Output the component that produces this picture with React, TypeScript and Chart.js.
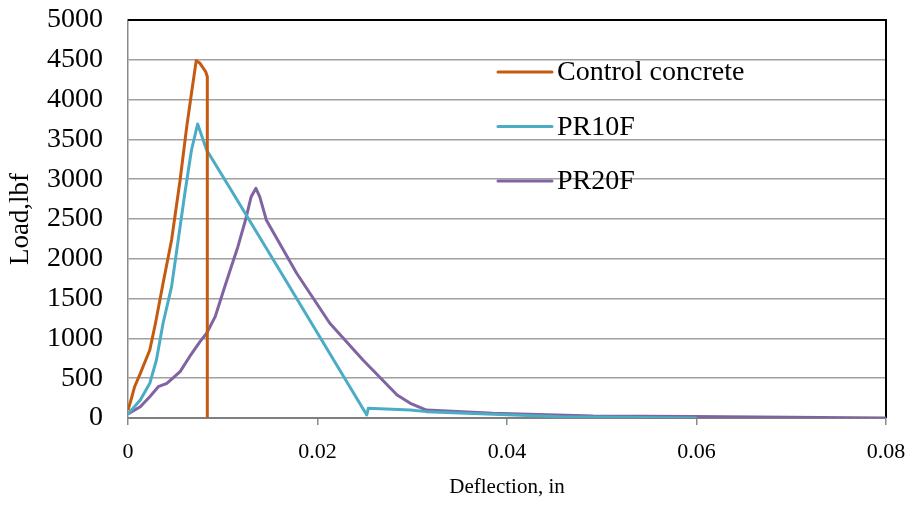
import { useEffect, useRef } from 'react';
import { Chart, registerables } from 'chart.js';
Chart.register(...registerables);

const seriesNames = ['Control concrete', 'PR10F', 'PR20F'];
const seriesColors = ['#C55A11', '#4BACC6', '#8064A2'];

const controlX = [0, 0.0003, 0.0007, 0.0013, 0.0023, 0.0029, 0.0037, 0.0046, 0.0055, 0.0062, 0.0067, 0.0072, 0.0076, 0.0082, 0.00837, 0.00837];
const controlY = [100, 220, 393, 561, 854, 1190, 1692, 2236, 2990, 3660, 4080, 4490, 4456, 4350, 4288, 0];

const pr10X = [0, 0.0013, 0.0023, 0.003, 0.0037, 0.0046, 0.0053, 0.006, 0.0067, 0.00735, 0.0083, 0.0108, 0.0165, 0.0252, 0.02536, 0.0298, 0.0315, 0.0456, 0.06];
const pr10Y = [50, 226, 436, 729, 1190, 1650, 2236, 2823, 3367, 3693, 3367, 2880, 1760, 38, 122, 100, 80, 16, 0];

const pr20X = [0, 0.0013, 0.0023, 0.0032, 0.0041, 0.0055, 0.0065, 0.0076, 0.0083, 0.0092, 0.0101, 0.0109, 0.0116, 0.0124, 0.013, 0.0135, 0.0139, 0.0146, 0.015, 0.0178, 0.0213, 0.0248, 0.0284, 0.0298, 0.0315, 0.0385, 0.0491, 0.0596, 0.08];
const pr20Y = [50, 142, 268, 393, 436, 582, 770, 959, 1064, 1273, 1608, 1901, 2152, 2487, 2780, 2886, 2780, 2487, 2403, 1818, 1190, 729, 289, 185, 100, 59, 25, 20, 0];

const xTickLabels = ['0', '0.02', '0.04', '0.06', '0.08'];
const yTickLabels = ['0', '500', '1000', '1500', '2000', '2500', '3000', '3500', '4000', '4500', '5000'];

const xTitle = 'Deflection, in';
const yTitle = 'Load,lbf';

const FONT = "'Liberation Serif', 'Times New Roman', serif";

export default function App() {
  const ref = useRef<HTMLCanvasElement>(null);
  useEffect(() => {
    document.body.style.margin = '0';
    const toPts = (xs: number[], ys: number[]) => xs.map((x, i) => ({ x, y: ys[i] }));

    const framePlugin = {
      id: 'frame',
      beforeDatasetsDraw(chart: any) {
        const { ctx, chartArea } = chart;
        ctx.save();
        ctx.strokeStyle = '#000000';
        ctx.lineWidth = 2;
        ctx.beginPath();
        ctx.moveTo(chartArea.left, chartArea.top);
        ctx.lineTo(chartArea.right, chartArea.top);
        ctx.lineTo(chartArea.right, chartArea.bottom);
        ctx.stroke();
        ctx.restore();
      },
    };

    const legendPlugin = {
      id: 'insideLegend',
      afterDraw(chart: any) {
        const { ctx, chartArea } = chart;
        const x0 = chartArea.left + 370;
        const ys = [72, 126.5, 181];
        ctx.save();
        chart.data.datasets.forEach((ds: any, i: number) => {
          const y = ys[i];
          ctx.strokeStyle = ds.borderColor;
          ctx.lineWidth = 3;
          ctx.lineCap = 'round';
          ctx.beginPath();
          ctx.moveTo(x0, y);
          ctx.lineTo(x0 + 54, y);
          ctx.stroke();
          ctx.fillStyle = '#000';
          ctx.font = `28px ${FONT}`;
          ctx.textBaseline = 'middle';
          ctx.textAlign = 'left';
          ctx.fillText(ds.label, x0 + 59, y + 1);
        });
        ctx.restore();
      },
    };

    const chart = new Chart(ref.current!, {
      type: 'line',
      data: {
        datasets: [
          { label: seriesNames[0], data: toPts(controlX, controlY), borderColor: seriesColors[0] },
          { label: seriesNames[1], data: toPts(pr10X, pr10Y), borderColor: seriesColors[1] },
          { label: seriesNames[2], data: toPts(pr20X, pr20Y), borderColor: seriesColors[2] },
        ].map((d) => ({ ...d, borderWidth: 3, pointRadius: 0, tension: 0, fill: false, borderJoinStyle: 'round' as const })),
      },
      options: {
        responsive: false,
        animation: false,
        devicePixelRatio: 1,
        layout: { padding: { top: 20, right: 29, left: 0, bottom: 0 } },
        plugins: { legend: { display: false }, tooltip: { enabled: false } },
        scales: {
          x: {
            type: 'linear',
            min: 0,
            max: 0.08,
            afterFit: (s: any) => { s.height = 90; s.paddingLeft = 0; s.paddingRight = 0; },
            ticks: {
              stepSize: 0.02,
              color: '#000',
              font: { family: FONT, size: 22 },
              padding: 14,
              maxRotation: 0,
              callback: (v: any) => xTickLabels[Math.round(Number(v) / 0.02)] ?? '',
            },
            grid: { drawOnChartArea: false, drawTicks: true, tickLength: 7, color: '#8a8a8a', lineWidth: 1.5 },
            border: { color: '#7f7f7f', width: 2 },
            title: { display: true, text: xTitle, color: '#000', font: { family: FONT, size: 21 }, padding: { top: 0, bottom: 8 } },
          },
          y: {
            type: 'linear',
            min: 0,
            max: 5000,
            afterFit: (s: any) => { s.width = 128; s.paddingTop = 0; s.paddingBottom = 0; },
            ticks: {
              stepSize: 500,
              color: '#000',
              font: { family: FONT, size: 28 },
              padding: 25,
              callback: (v: any) => yTickLabels[Math.round(Number(v) / 500)] ?? '',
            },
            grid: { color: '#a0a0a0', lineWidth: 1.5, drawTicks: false },
            border: { color: '#8a8a8a', width: 1.5 },
            title: { display: true, text: yTitle, color: '#000', font: { family: FONT, size: 27 }, padding: { top: 5, bottom: 0 } },
          },
        },
      },
      plugins: [framePlugin, legendPlugin],
    });
    return () => chart.destroy();
  }, []);
  return <canvas ref={ref} width={915} height={508} style={{ display: 'block' }} />;
}
